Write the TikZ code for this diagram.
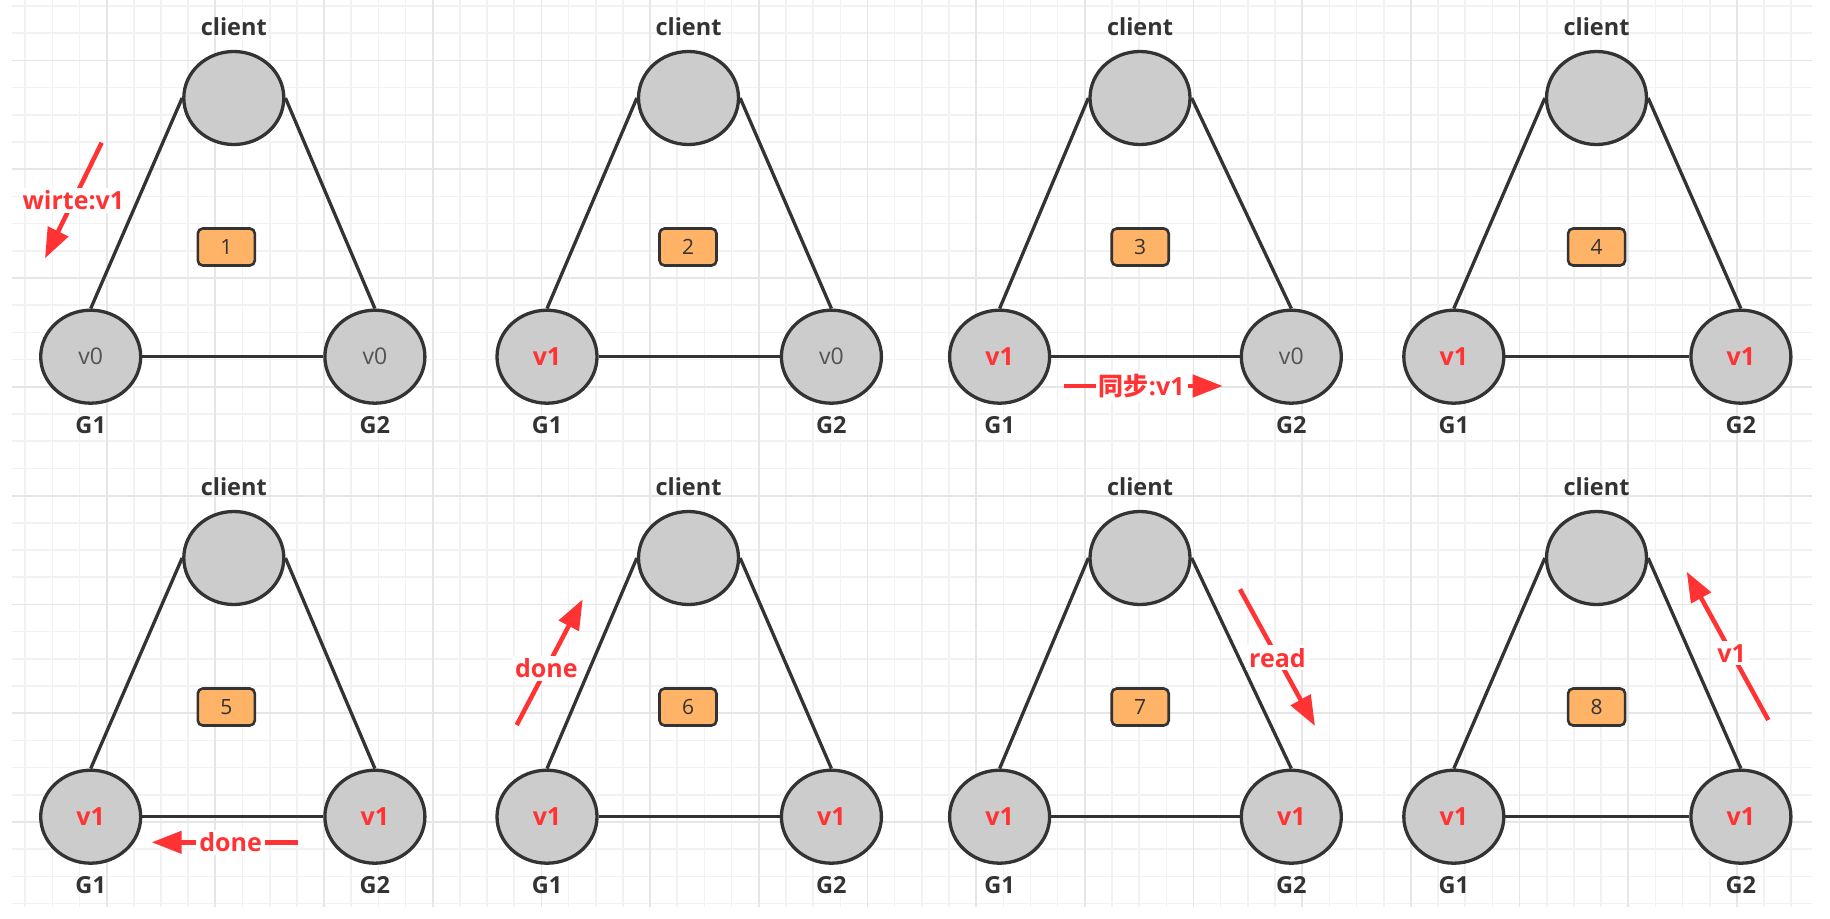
\documentclass[tikz,border=0pt]{standalone}
\usepackage{fontspec}
\setmainfont{Open Sans}
\newfontfamily\cjk{Noto Sans CJK SC}
\usetikzlibrary{shapes.geometric,arrows.meta}
\definecolor{dk}{HTML}{333333}
\definecolor{nodegray}{HTML}{CCCCCC}
\definecolor{boxor}{HTML}{FFB366}
\definecolor{rd}{HTML}{FF3333}
\definecolor{gridminor}{HTML}{F2F2F2}
\definecolor{gridmajor}{HTML}{E6E6E6}
\tikzset{
  ell/.style={ellipse, draw=dk, fill=nodegray, line width=3.3pt, minimum width=100pt, minimum height=93pt, inner sep=0pt, font=\fontsize{23}{28}\selectfont, text=dk!85},
  lbl/.style={font=\fontsize{23.5}{28}\selectfont\bfseries, text=dk, inner sep=0pt},
  numbox/.style={draw=dk, fill=boxor, rounded corners=5pt, line width=2.6pt, minimum width=57pt, minimum height=37pt, inner sep=0pt, font=\fontsize{21}{28}\selectfont, text=dk},
  conn/.style={draw=dk, line width=3.3pt},
  redarr/.style={draw=rd, line width=4.5pt, -{Triangle[length=30pt,width=22pt]}},
  redlbl/.style={fill=white, text=rd, font=\fontsize{25}{30}\selectfont\bfseries, inner sep=3pt},
  gminor/.style={draw=gridminor, line width=1.6pt},
  gmajor/.style={draw=gridmajor, line width=1.8pt}
}
\newcommand\vone{\textcolor{rd}{\fontsize{25}{28}\selectfont\bfseries v1}}
\newcommand\vzero{v0}
\newcommand\drawpanel[9]{%
  \node[ell] (c#1) at (#3,{#2+98}) {};
  \node[lbl] (cl#1) at (#3,{#2+27}) {client};
  \node[ell] (g#1) at (#4,{#2+356.7}) {#8};
  \node[ell] (h#1) at (#5,{#2+356.7}) {#9};
  \node[lbl] (gl#1) at (#4,{#2+425}) {G1};
  \node[lbl] (hl#1) at (#5,{#2+425}) {G2};
  \node[numbox] (n#1) at (#6,{#2+247}) {#7};
  \draw[conn] (c#1.west) -- (g#1.north);
  \draw[conn] (c#1.east) -- (h#1.north);
  \draw[conn] (g#1.east) -- (h#1.west);
}
\begin{document}
\begin{tikzpicture}[x=1pt,y=-1pt]
\useasboundingbox (0,0) rectangle (1830,918);
\fill[white] (0,0) rectangle (1830,918);
% grid
\foreach \k in {0,...,33} \draw[gminor] (12,{6+27.2*\k}) -- (1812,{6+27.2*\k});
\foreach \k in {0,...,65} \draw[gminor] ({25.2+27.17*\k},0) -- ({25.2+27.17*\k},907);
\foreach \k in {2,6,...,30} \draw[gmajor] (12,{6+27.2*\k}) -- (1812,{6+27.2*\k});
\foreach \k in {3,7,...,63} \draw[gmajor] ({25.2+27.17*\k},0) -- ({25.2+27.17*\k},907);
% panels
\drawpanel{1}{0}{233.8}{90.7}{374.9}{226.3}{1}{\vzero}{\vzero}
\drawpanel{2}{0}{688.5}{547}{831.4}{688}{2}{\vone}{\vzero}
\drawpanel{3}{0}{1140}{999.6}{1291.3}{1140.2}{3}{\vone}{\vzero}
\drawpanel{4}{0}{1596.5}{1453.8}{1740.9}{1596.6}{4}{\vone}{\vone}
\drawpanel{5}{460}{233.8}{90.7}{374.9}{226.3}{5}{\vone}{\vone}
\drawpanel{6}{460}{688.5}{547}{831.4}{688}{6}{\vone}{\vone}
\drawpanel{7}{460}{1140}{999.6}{1291.3}{1140.2}{7}{\vone}{\vone}
\drawpanel{8}{460}{1596.5}{1453.8}{1740.9}{1596.6}{8}{\vone}{\vone}
% red arrows
\coordinate (a1s) at (101.7,142.7); \coordinate (a1e) at (45,258.3);
\draw[redarr] (a1s) -- node[redlbl, pos=0.5] (t1) {wirte:v1} (a1e);
\coordinate (a3s) at (1064,386); \coordinate (a3e) at (1222.7,386);
\draw[redarr] (a3s) -- node[redlbl, pos=0.49] (t3) {{\cjk\bfseries 同步}:v1} (a3e);
\coordinate (a5s) at (297.7,842.3); \coordinate (a5e) at (151.7,842.3);
\draw[redarr] (a5s) -- node[redlbl, pos=0.46] (t5) {done} (a5e);
\coordinate (a6s) at (516.7,725); \coordinate (a6e) at (582.7,599.3);
\draw[redarr] (a6s) -- node[redlbl, pos=0.45] (t6) {done} (a6e);
\coordinate (a7s) at (1240,589.3); \coordinate (a7e) at (1315,726);
\draw[redarr] (a7s) -- node[redlbl, pos=0.5] (t7) {read} (a7e);
\coordinate (a8s) at (1768.3,720); \coordinate (a8e) at (1686.7,571.7);
\draw[redarr] (a8s) -- node[redlbl, pos=0.45] (t8) {v1} (a8e);
\end{tikzpicture}
\end{document}
